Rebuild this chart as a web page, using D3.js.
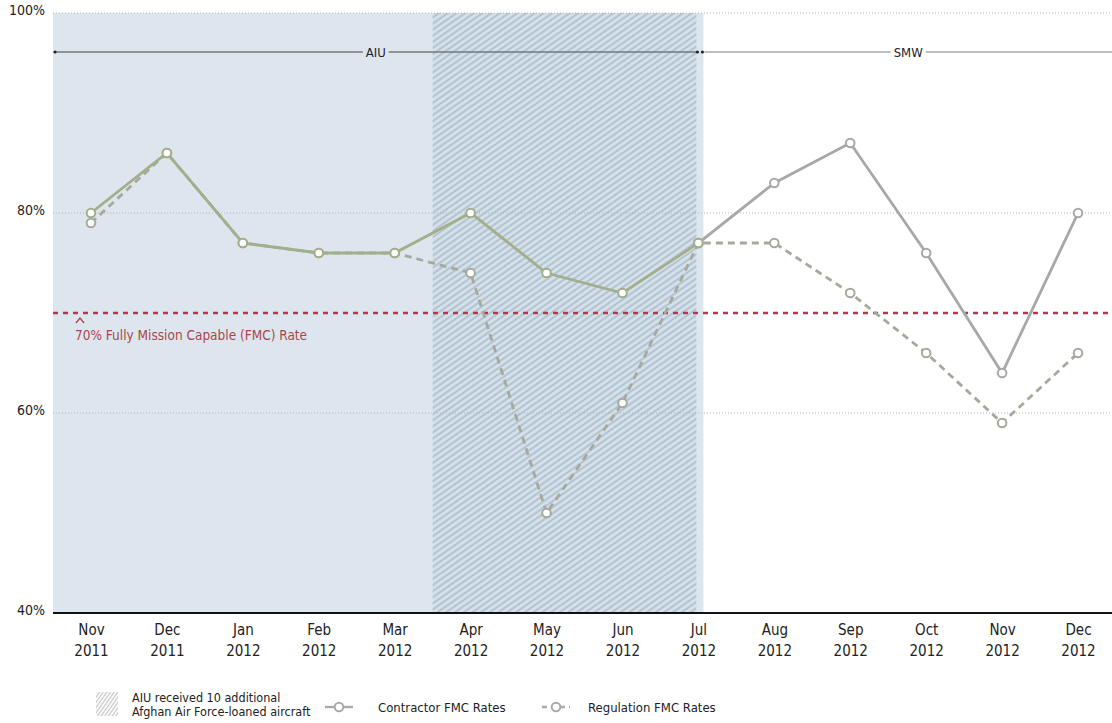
<!DOCTYPE html>
<html>
<head>
<meta charset="utf-8">
<script src="https://cdn.jsdelivr.net/npm/d3@7"></script>
<style>
  body { margin: 0; background: #fff; }
  svg text { font-family: "DejaVu Sans Condensed", "Liberation Sans Narrow", "Roboto", sans-serif; }
</style>
</head>
<body>
<script>
// months along the x axis
var monthNames = ["Nov","Dec","Jan","Feb","Mar","Apr","May","Jun","Jul","Aug","Sep","Oct","Nov","Dec"];
var yearNames  = ["2011","2011","2012","2012","2012","2012","2012","2012","2012","2012","2012","2012","2012","2012"];
// FMC rates in percent
var contractor = [80, 86, 77, 76, 76, 80, 74, 72, 77, 83, 87, 76, 64, 80];
var regulation = [79, 86, 77, 76, 76, 74, 50, 61, 77, 77, 72, 66, 59, 66];
var yTicks = [40, 60, 80, 100];
var target = 70;

var width = 1112, height = 723;
var keys = monthNames.map(function(d,i){ return i; });

var svg = d3.select("body").append("svg").attr("width", width).attr("height", height);

var x = d3.scalePoint().domain(keys).range([53, 1116]).padding(0.5);
var step = x.step();
var y = d3.scaleLinear().domain([40, 100]).range([613, 13]);

var defs = svg.append("defs");
var pat = defs.append("pattern").attr("id","hatch").attr("patternUnits","userSpaceOnUse")
  .attr("width",5).attr("height",5).attr("patternTransform","rotate(-35)");
pat.append("rect").attr("width",5).attr("height",5).attr("fill","#d6e1ea");
pat.append("line").attr("x1",0).attr("y1",2.5).attr("x2",5).attr("y2",2.5).attr("stroke","#a9bccc").attr("stroke-width",1.7);

var pat2 = defs.append("pattern").attr("id","hatch2").attr("patternUnits","userSpaceOnUse")
  .attr("width",3).attr("height",3).attr("patternTransform","rotate(-55)");
pat2.append("rect").attr("width",3).attr("height",3).attr("fill","#fff");
pat2.append("line").attr("x1",0).attr("y1",1.5).attr("x2",3).attr("y2",1.5).attr("stroke","#c4c4c4").attr("stroke-width",1.2);

// clip regions: AIU (green line) and SMW (gray line)
var julX = x(8);
defs.append("clipPath").attr("id","clipA").append("rect").attr("x",0).attr("y",0).attr("width",julX).attr("height",height);
defs.append("clipPath").attr("id","clipB").append("rect").attr("x",julX).attr("y",0).attr("width",width-julX).attr("height",height);
defs.append("clipPath").attr("id","clipAll").append("rect").attr("width",width).attr("height",height);

// background shading
svg.append("rect").attr("x", x.range()[0]).attr("y", y(100)).attr("width", julX + 5 - x.range()[0])
  .attr("height", y(40) - y(100)).attr("fill", "#dde6ee");
svg.append("rect").attr("x", x(5) - step/2).attr("y", y(100)).attr("width", julX - 2 - (x(5) - step/2))
  .attr("height", y(40) - y(100)).attr("fill", "url(#hatch)");

// gridlines
svg.append("g").selectAll("line").data(yTicks.filter(function(d){ return d > 40; })).enter().append("line")
  .attr("x1", 53).attr("x2", width).attr("y1", function(d){ return y(d); }).attr("y2", function(d){ return y(d); })
  .attr("stroke", "#b5b5b5").attr("stroke-width", 1).attr("stroke-dasharray", "1,2");

// y axis labels
var yAxis = d3.axisLeft(y).tickValues(yTicks).tickSize(0).tickPadding(0).tickFormat(function(d){ return d + "%"; });
var yg = svg.append("g").attr("transform","translate(45,0)").call(yAxis);
yg.select(".domain").remove();
yg.selectAll("text").attr("font-size", 14).attr("fill", "#222").attr("dy", "0.1em")
  .style("font-family", "'DejaVu Sans Condensed', sans-serif");

// baseline
svg.append("line").attr("x1", 53).attr("x2", width).attr("y1", y(40)).attr("y2", y(40))
  .attr("stroke", "#111").attr("stroke-width", 2);

// x axis labels (month over year)
var xAxis = d3.axisBottom(x).tickSize(0).tickPadding(0).tickFormat(function(i){ return monthNames[i]; });
var xg = svg.append("g").attr("transform","translate(0," + y(40) + ")").call(xAxis);
xg.select(".domain").remove();
xg.selectAll(".tick text").text(null).attr("y", null).attr("dy", null).attr("fill", "#222").attr("font-size", 15)
  .style("font-family", "'DejaVu Sans Condensed', sans-serif")
  .each(function(i){
    var t = d3.select(this);
    t.append("tspan").attr("x", 0).attr("y", 22).text(monthNames[i]);
    t.append("tspan").attr("x", 0).attr("y", 43).text(yearNames[i]);
  });

// 70% target line
svg.append("line").attr("x1", 53).attr("x2", width).attr("y1", y(target)).attr("y2", y(target))
  .attr("stroke", "#b23a48").attr("stroke-width", 2.5).attr("stroke-dasharray", "5,5");
// small caret pointing at the target line
svg.append("path").attr("d", "M76," + (y(target) + 10) + " L80," + (y(target) + 5) + " L84," + (y(target) + 10))
  .attr("fill", "none").attr("stroke", "#a8474a").attr("stroke-width", 1.4);
svg.append("text").attr("x", 75).attr("y", y(target) + 27).attr("fill", "#a8474a").attr("font-size", 13.5)
  .text("70% Fully Mission Capable (FMC) Rate");

// AIU / SMW period markers
var periods = [
  { label: "AIU", x0: 55, x1: julX - 2, color: "#777" },
  { label: "SMW", x0: julX + 6, x1: width, color: "#aaa" }
];
var py = 52;
periods.forEach(function(p){
  var mid = (p.x0 + p.x1) / 2;
  var t = svg.append("text").attr("x", mid).attr("y", py + 5).attr("text-anchor","middle")
    .attr("font-size", 13).attr("fill", "#222").text(p.label);
  var w = t.node().getComputedTextLength() / 2 + 3;
  svg.append("line").attr("x1", p.x0).attr("x2", mid - w).attr("y1", py).attr("y2", py).attr("stroke", p.color).attr("stroke-width", 1.3);
  svg.append("line").attr("x1", mid + w).attr("x2", p.x1).attr("y1", py).attr("y2", py).attr("stroke", p.color).attr("stroke-width", 1.3);
});
svg.append("g").selectAll("circle").data([55, julX - 1, julX + 4]).enter().append("circle")
  .attr("cx", function(d){ return d; }).attr("cy", py).attr("r", 1.6).attr("fill", "#222");

// series
var line = d3.line().x(function(d,i){ return x(i); }).y(function(d){ return y(d); });

function drawSeries(values, color, dash, clip) {
  var g = svg.append("g").attr("clip-path", "url(#" + clip + ")");
  g.append("path").attr("d", line(values)).attr("fill","none").attr("stroke", color)
    .attr("stroke-width", 2.8).attr("stroke-dasharray", dash);
  g.selectAll("circle").data(values).enter().append("circle")
    .attr("cx", function(d,i){ return x(i); }).attr("cy", function(d){ return y(d); })
    .attr("r", 4.3).attr("fill", "#fff").attr("stroke", color).attr("stroke-width", 2);
}
// regulation first so contractor sits on top
drawSeries(regulation, "#a6a99d", "7,5", "clipAll");
drawSeries(contractor, "#a3ae8a", null, "clipA");
drawSeries(contractor, "#a8a8a6", null, "clipB");
// Jul point belongs to AIU colour
svg.append("circle").attr("cx", julX).attr("cy", y(contractor[8])).attr("r", 4.3)
  .attr("fill", "#fff").attr("stroke", "#a3ae8a").attr("stroke-width", 2);

// legend
var lg = svg.append("g");
lg.append("rect").attr("x", 96).attr("y", 692).attr("width", 22).attr("height", 24).attr("fill", "url(#hatch2)");
lg.append("text").attr("x", 132).attr("y", 702).attr("font-size", 12.5).attr("fill", "#222").text("AIU received 10 additional");
lg.append("text").attr("x", 132).attr("y", 716).attr("font-size", 12.5).attr("fill", "#222").text("Afghan Air Force-loaned aircraft");

var legendItems = [
  { label: "Contractor FMC Rates", x: 325, dash: null },
  { label: "Regulation FMC Rates", x: 542, dash: "5,4" }
];
var li = lg.selectAll("g.item").data(legendItems).enter().append("g").attr("class","item")
  .attr("transform", function(d){ return "translate(" + d.x + ",707)"; });
li.append("line").attr("x1", 0).attr("x2", 28).attr("stroke", "#aaa").attr("stroke-width", 2.4)
  .attr("stroke-dasharray", function(d){ return d.dash; });
li.append("circle").attr("cx", 14).attr("r", 4.3).attr("fill", "#fff").attr("stroke", "#aaa").attr("stroke-width", 2);
li.append("text").attr("x", function(d){ return d.dash ? 46 : 53; }).attr("y", 5).attr("font-size", 13)
  .attr("fill", "#222").text(function(d){ return d.label; });
</script>
</body>
</html>
